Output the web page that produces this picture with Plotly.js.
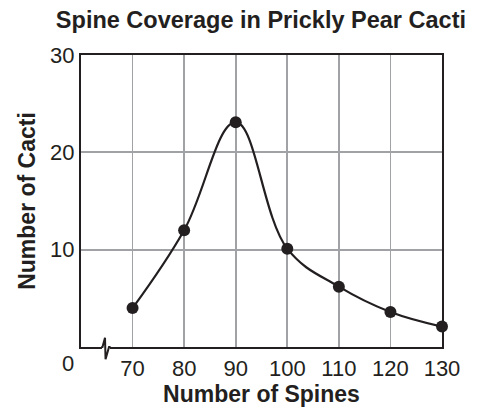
<!DOCTYPE html>
<html>
<head>
<meta charset="utf-8">
<script src="https://cdn.plot.ly/plotly-3.0.1.min.js"></script>
<style>html,body{margin:0;padding:0;background:#fff;}#chart{width:485px;height:414px;}</style>
</head>
<body>
<div id="chart"></div>
<script>
var spines = [70, 80, 90, 100, 110, 120, 130];
var cacti = [4, 12, 23.1, 10.1, 6.2, 3.6, 2.1];
var yTicks = [10, 20, 30];
var xTickLabels = ['70', '80', '90', '100', '110', '120', '130'];

var font = 'Liberation Sans, Arial, sans-serif';
var ink = '#231f20';

var trace = {
  x: spines,
  y: cacti,
  mode: 'lines+markers',
  line: {shape: 'spline', smoothing: 1.1, color: ink, width: 2.2},
  marker: {size: 12, color: ink},
  cliponaxis: false,
  hoverinfo: 'skip'
};

var layout = {
  width: 485,
  height: 414,
  margin: {l: 81, r: 43, t: 55, b: 67},
  paper_bgcolor: '#fff',
  plot_bgcolor: '#fff',
  showlegend: false,
  title: {
    text: '<b>Spine Coverage in Prickly Pear Cacti</b>',
    font: {family: font, size: 23.5, color: ink},
    x: 0.538, xanchor: 'center', y: 0.952, yanchor: 'middle'
  },
  xaxis: {
    range: [60, 130],
    tickvals: spines,
    ticktext: xTickLabels,
    showgrid: true,
    gridcolor: '#a0a2a5',
    gridwidth: 1.8,
    zeroline: false,
    showline: true,
    linecolor: ink,
    linewidth: 2,
    mirror: true,
    ticks: '',
    tickfont: {family: font, size: 22, color: ink},
    ticklabelstandoff: 1,
    title: {text: '<b>Number of Spines</b>', font: {family: font, size: 23, color: ink}, standoff: 3}
  },
  yaxis: {
    range: [0, 30],
    tickvals: yTicks,
    showgrid: true,
    gridcolor: '#a0a2a5',
    gridwidth: 1.8,
    zeroline: false,
    showline: true,
    linecolor: ink,
    linewidth: 2,
    mirror: true,
    ticks: '',
    tickfont: {family: font, size: 22, color: ink},
    title: {text: '<b>Number of Cacti</b>', font: {family: font, size: 23, color: ink}, standoff: 8}
  },
  annotations: [{
    text: '0', xref: 'paper', yref: 'paper', x: -0.036, y: 0, xanchor: 'center', yanchor: 'top',
    yshift: -2, showarrow: false, font: {family: font, size: 22, color: ink}
  }],
  shapes: [
    {type: 'line', xref: 'paper', yref: 'paper', x0: 0.058, x1: 0.08, y0: 0, y1: 0,
     line: {color: '#fff', width: 4}},
    {type: 'path', xref: 'paper', yref: 'paper',
     path: 'M 0.056 0 L 0.0595 0 L 0.0665 0.032 L 0.068 -0.042 L 0.0776 0 L 0.082 0',
     line: {color: ink, width: 2}}
  ]
};

Plotly.newPlot('chart', [trace], layout, {displayModeBar: false, staticPlot: true});
</script>
</body>
</html>
